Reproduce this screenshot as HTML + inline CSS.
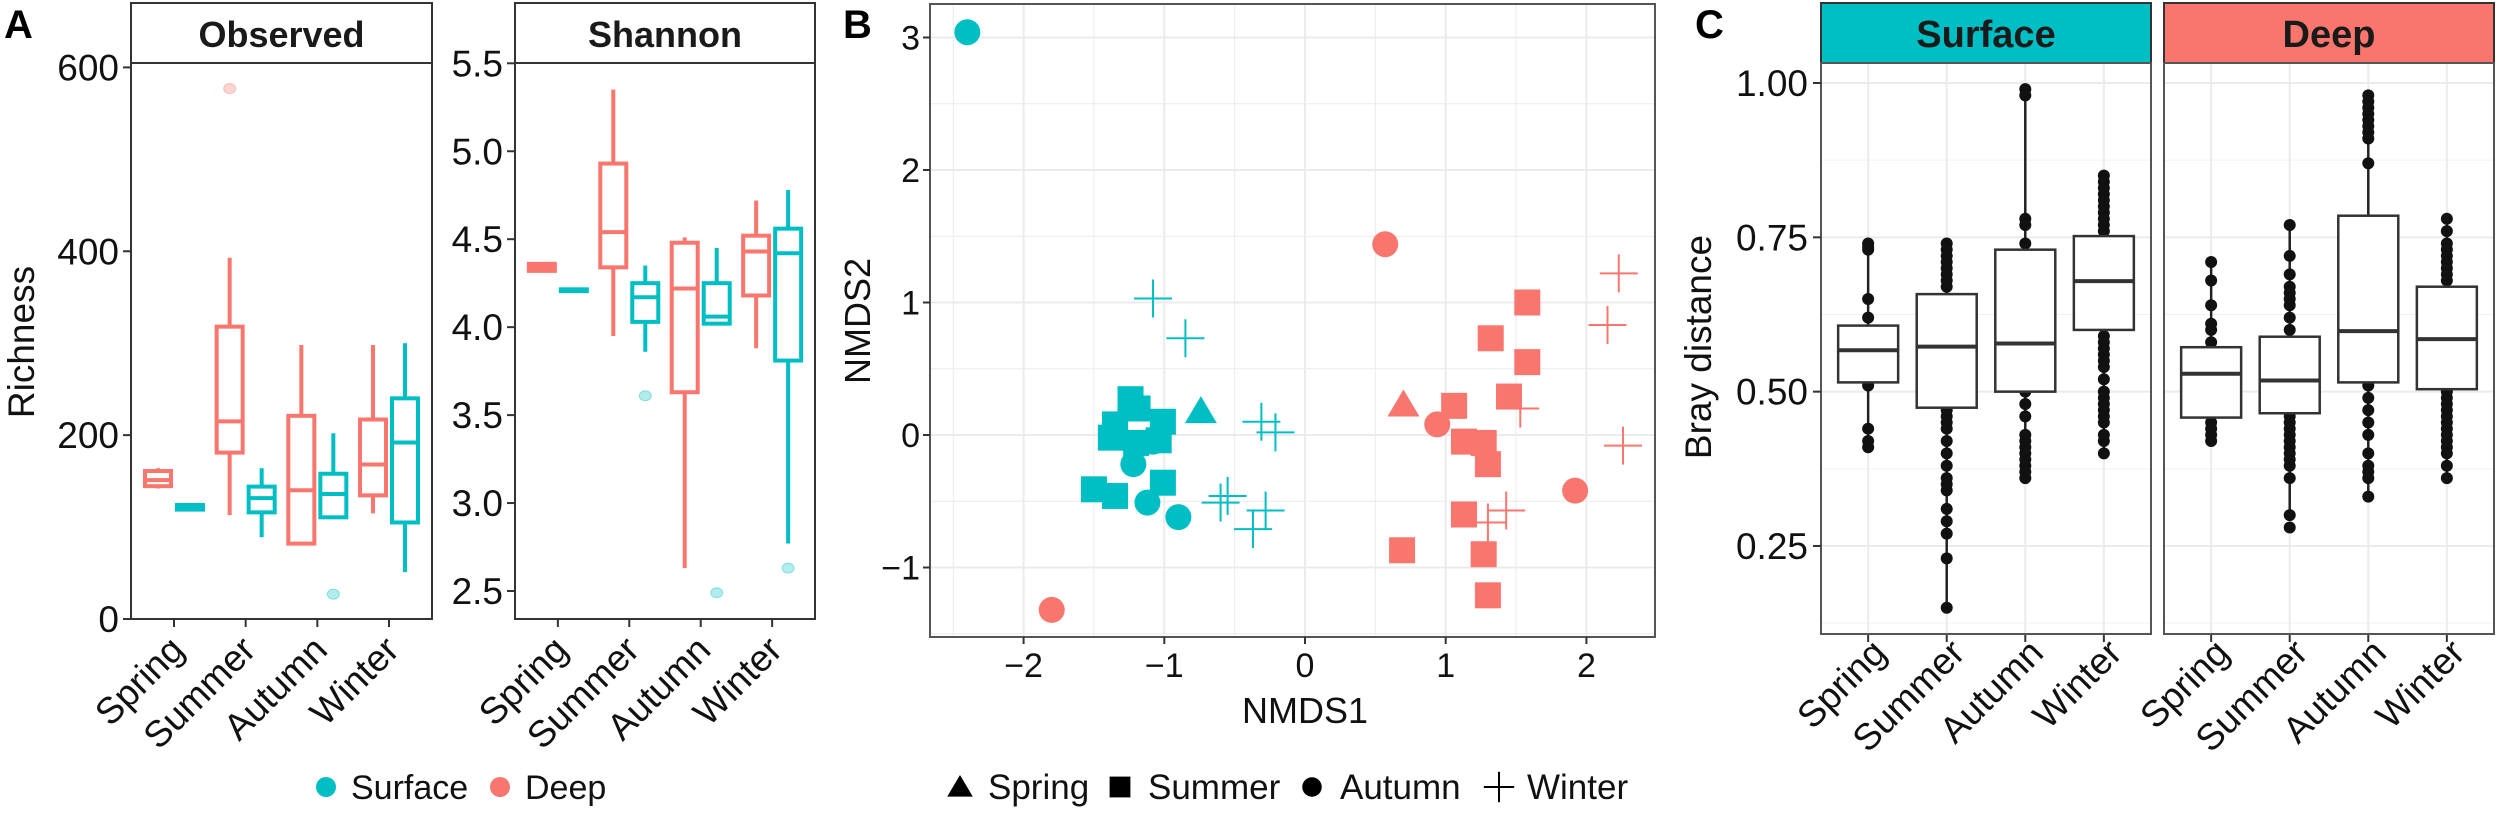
<!DOCTYPE html>
<html><head><meta charset="utf-8">
<style>
html,body{margin:0;padding:0;background:#fff;}
svg{display:block;font-family:"Liberation Sans",Arial,sans-serif;}
</style></head>
<body>
<svg id="fig" width="2500" height="813" viewBox="0 0 2500 813" xmlns="http://www.w3.org/2000/svg"></svg>
<script>
// ---------- DATA ----------
const seasons = ["Spring","Summer","Autumn","Winter"];
// Observed richness boxes: [lowWhisker, q1, median, q3, highWhisker]
const obsDeep    = [[142,144.5,151,161,164],[113,181,215,318,393],[82,82,140,221,298],[115,134.5,168,217,298]];
const obsSurface = [[118,119,121.5,124,126],[89,116,131.5,144,164],[110.6,110.6,136,158,202],[51,105,192,240,300]];
const obsDeepOut = [[],[577],[],[]];
const obsSurfOut = [[],[],[27],[]];
const shDeep     = [[4.31,4.32,4.34,4.36,4.37],[3.95,4.34,4.54,4.93,5.35],[2.63,3.63,4.22,4.48,4.51],[3.88,4.18,4.43,4.52,4.72]];
const shSurface  = [[4.20,4.205,4.21,4.215,4.22],[3.86,4.03,4.17,4.25,4.35],[4.02,4.02,4.06,4.25,4.45],[2.77,3.81,4.42,4.56,4.78]];
const shDeepOut  = [[],[],[],[]];
const shSurfOut  = [[],[3.61],[2.49],[2.63]];
const obsTicks = [0,200,400,600];
const shTicks  = [2.5,3.0,3.5,4.0,4.5,5.0,5.5];

// NMDS points
const nmdsX     = [-2.40,-1.24,-1.19,-1.35,-1.38,-1.01,-1.04,-1.50,-1.35,-1.01,-1.20,-1.22,-1.08,-1.12,-0.90,-0.74,-1.08,-0.85,-0.31,-0.21,-0.60,-0.55,-0.28,-0.37,
                   0.57,0.94,1.92,-1.80,0.70,1.58,1.32,1.58,1.45,1.06,1.13,1.27,1.30,1.13,0.69,1.27,1.30,2.23,2.15,1.53,2.26,1.43,1.30];
const nmdsY     = [3.04,0.27,0.20,0.08,-0.02,0.10,-0.04,-0.41,-0.46,-0.36,-0.06,-0.22,-0.05,-0.51,-0.62,0.18,1.03,0.73,0.10,0.02,-0.51,-0.46,-0.57,-0.71,
                   1.44,0.08,-0.42,-1.32,0.23,1.00,0.73,0.55,0.29,0.22,-0.05,-0.06,-0.22,-0.60,-0.87,-0.90,-1.21,1.22,0.83,0.20,-0.08,-0.57,-0.66];
const nmdsSeason= ["Autumn","Summer","Summer","Summer","Summer","Summer","Summer","Summer","Summer","Summer","Summer","Autumn","Autumn","Autumn","Autumn","Spring","Winter","Winter","Winter","Winter","Winter","Winter","Winter","Winter",
                   "Autumn","Autumn","Autumn","Autumn","Spring","Summer","Summer","Summer","Summer","Summer","Summer","Summer","Summer","Summer","Summer","Summer","Summer","Winter","Winter","Winter","Winter","Winter","Winter"];
const nmdsDepth = ["Surface","Surface","Surface","Surface","Surface","Surface","Surface","Surface","Surface","Surface","Surface","Surface","Surface","Surface","Surface","Surface","Surface","Surface","Surface","Surface","Surface","Surface","Surface","Surface",
                   "Deep","Deep","Deep","Deep","Deep","Deep","Deep","Deep","Deep","Deep","Deep","Deep","Deep","Deep","Deep","Deep","Deep","Deep","Deep","Deep","Deep","Deep","Deep"];
const nmdsXTicks = [-2,-1,0,1,2];
const nmdsYTicks = [-1,0,1,2,3];

// Bray distance boxes
const braySurface = [[0.412,0.515,0.567,0.607,0.74],[0.152,0.474,0.573,0.658,0.74],[0.362,0.50,0.578,0.730,0.987],[0.401,0.60,0.679,0.752,0.849]];
const brayDeep    = [[0.415,0.458,0.529,0.572,0.708],[0.30,0.465,0.518,0.589,0.767],[0.326,0.515,0.598,0.785,0.985],[0.362,0.504,0.585,0.670,0.778]];
const braySurfPts = [[0.74,0.735,0.73,0.65,0.62,0.51,0.44,0.42,0.41],
  [0.74,0.73,0.72,0.71,0.70,0.69,0.68,0.67,0.47,0.46,0.45,0.44,0.42,0.40,0.38,0.36,0.35,0.34,0.31,0.29,0.27,0.23,0.15],
  [0.99,0.98,0.78,0.77,0.74,0.50,0.48,0.46,0.43,0.42,0.41,0.40,0.39,0.38,0.37,0.36],
  [0.85,0.84,0.83,0.82,0.81,0.80,0.79,0.78,0.77,0.76,0.59,0.58,0.57,0.56,0.55,0.54,0.52,0.50,0.49,0.48,0.47,0.46,0.45,0.43,0.42,0.40]];
const brayDeepPts = [[0.71,0.68,0.64,0.61,0.60,0.58,0.45,0.44,0.43,0.42],
  [0.77,0.72,0.69,0.67,0.66,0.65,0.64,0.62,0.60,0.46,0.45,0.44,0.43,0.42,0.41,0.40,0.39,0.38,0.36,0.30,0.28],
  [0.98,0.97,0.96,0.95,0.94,0.93,0.92,0.91,0.87,0.51,0.49,0.47,0.45,0.43,0.40,0.38,0.37,0.36,0.33],
  [0.78,0.76,0.74,0.73,0.72,0.71,0.70,0.69,0.68,0.50,0.49,0.48,0.47,0.46,0.45,0.44,0.43,0.42,0.41,0.40,0.38,0.36]];
const brayTicks = [0.25,0.50,0.75,1.00];
const brayTickLabels = ["0.25","0.50","0.75","1.00"];

// ---------- HELPERS ----------
const NS="http://www.w3.org/2000/svg";
const svg=document.getElementById('fig');
const RED="#F8766D", CYAN="#00BFC4";
function el(tag,attrs,parent){const e=document.createElementNS(NS,tag);for(const k in attrs)e.setAttribute(k,attrs[k]);(parent||svg).appendChild(e);return e;}
function txt(s,attrs,parent){const e=el('text',attrs,parent);e.textContent=s;return e;}
function lin(a,b,dom,rng){return v=>rng[0]+(v-dom[0])/(dom[1]-dom[0])*(rng[1]-rng[0]);}

// ---------- PANEL A ----------
const gA=el('g',{});


const tA=txt('A',{x:4,y:38,'font-size':40,'font-weight':'bold'},gA);



function boxPanel(cfg){
  const g=el('g',{});
  
  
  const {L,R,T,B}=cfg;
  const y=lin(0,0,cfg.dom,[B-cfg.padB,T+cfg.padT]);
  const st=el('rect',{x:L,y:3,width:R-L,height:T-3,fill:'#fff',stroke:'#333','stroke-width':2},g);
  
  
  const stt=txt(cfg.title,{x:(L+R)/2,y:T-16,'font-size':36,'font-weight':'bold','text-anchor':'middle',fill:'#1a1a1a'},g);
  
  
  el('rect',{x:L,y:T,width:R-L,height:B-T,fill:'#fff',stroke:'#333','stroke-width':2},g);
  cfg.ticks.forEach(t=>{
    const yy=y(t);
    el('line',{x1:L-8,x2:L,y1:yy,y2:yy,stroke:'#333','stroke-width':2},g);
    const tl=txt(cfg.fmt(t),{x:L-12,y:yy+13,'font-size':37,'text-anchor':'end',fill:'#111'},g);
    
    
  });
  const step=(R-L)/4.2;
  seasons.forEach((s,i)=>{
    const cx=L+step*(0.6+i);
    el('line',{x1:cx,x2:cx,y1:B,y2:B+8,stroke:'#333','stroke-width':2},g);
    const xl=txt(s,{x:cx+12,y:652,'font-size':37,'text-anchor':'end',fill:'#111',transform:`rotate(-45 ${cx+12} 652)`},g);
    
    
    [[cfg.deep,cfg.deepOut,RED,-16],[cfg.surf,cfg.surfOut,CYAN,16]].forEach(([arr,outs,col,off])=>{
      const d=arr[i], bx=cx+off, w=26;
      const bg=el('g',{},g);
      
      
      el('line',{x1:bx,x2:bx,y1:y(d[0]),y2:y(d[1]),stroke:col,'stroke-width':4},bg);
      el('line',{x1:bx,x2:bx,y1:y(d[3]),y2:y(d[4]),stroke:col,'stroke-width':4},bg);
      el('rect',{x:bx-w/2,y:y(d[3]),width:w,height:Math.max(1,y(d[1])-y(d[3])),fill:'#fff',stroke:col,'stroke-width':4},bg);
      el('line',{x1:bx-w/2,x2:bx+w/2,y1:y(d[2]),y2:y(d[2]),stroke:col,'stroke-width':4},bg);
      outs[i].forEach(v=>{
        const o=el('ellipse',{cx:bx,cy:y(v),rx:6,ry:5,fill:col,'fill-opacity':0.3,stroke:col,'stroke-opacity':0.4},bg);
        
        
      });
    });
  });
  return g;
}
boxPanel({name:'observed-panel',title:'Observed',L:131,R:432,T:63,B:619,padB:0,padT:4.4,dom:[0,600],ticks:obsTicks,fmt:t=>String(t),deep:obsDeep,surf:obsSurface,deepOut:obsDeepOut,surfOut:obsSurfOut});
boxPanel({name:'shannon-panel',title:'Shannon',L:515,R:815,T:63,B:619,padB:28,padT:0.3,dom:[2.5,5.5],ticks:shTicks,fmt:t=>t.toFixed(1),deep:shDeep,surf:shSurface,deepOut:shDeepOut,surfOut:shSurfOut});
const rich=txt('Richness',{x:0,y:0,'font-size':37,'text-anchor':'middle',fill:'#111',transform:'translate(34 342) rotate(-90)'});


[[CYAN,'Surface',326],[RED,'Deep',500]].forEach(([c,l,x])=>{
  const g=el('g',{});
  
  
  el('circle',{cx:x,cy:787,r:10,fill:c},g);
  txt(l,{x:x+25,y:799,'font-size':34,fill:'#111'},g);
});

// ---------- PANEL B ----------
const gB=el('g',{});


const BL=930,BR=1655,BT=4,BB=637;
const bx=lin(0,0,[0,1],[1305,1445.7]);
const by=lin(0,0,[0,1],[435,302.5]);
const tB=txt('B',{x:843,y:38,'font-size':40,'font-weight':'bold'},gB);


el('rect',{x:BL,y:BT,width:BR-BL,height:BB-BT,fill:'#fff'},gB);
for(let v=-2.5;v<=2.5;v+=0.5){const xx=bx(v);if(xx>BL&&xx<BR)el('line',{x1:xx,x2:xx,y1:BT,y2:BB,stroke:'#ebebeb','stroke-width':Number.isInteger(v)?2:1},gB);}
for(let v=-1.5;v<=3.5;v+=0.5){const yy=by(v);if(yy>BT&&yy<BB)el('line',{x1:BL,x2:BR,y1:yy,y2:yy,stroke:'#ebebeb','stroke-width':Number.isInteger(v)?2:1},gB);}
el('rect',{x:BL,y:BT,width:BR-BL,height:BB-BT,fill:'none',stroke:'#555','stroke-width':2},gB);
nmdsXTicks.forEach(t=>{const xx=bx(t);el('line',{x1:xx,x2:xx,y1:BB,y2:BB+7,stroke:'#333','stroke-width':2},gB);
  const l=txt(t<0?'\u2212'+(-t):String(t),{x:xx,y:677,'font-size':34,'text-anchor':'middle',fill:'#111'},gB);
  
  });
nmdsYTicks.forEach(t=>{const yy=by(t);el('line',{x1:BL-7,x2:BL,y1:yy,y2:yy,stroke:'#333','stroke-width':2},gB);
  const l=txt(t<0?'\u2212'+(-t):String(t),{x:BL-10,y:yy+12,'font-size':34,'text-anchor':'end',fill:'#111'},gB);
  
  });
const n1=txt('NMDS1',{x:1305,y:723,'font-size':36,'text-anchor':'middle',fill:'#111'},gB);


const n2=txt('NMDS2',{x:0,y:0,'font-size':36,'text-anchor':'middle',fill:'#111',transform:'translate(870 321) rotate(-90)'},gB);


function marker(shape,x,y,col,parent,sc){
  sc=sc||1;
  if(shape==='Spring')return el('polygon',{points:`${x},${y-15*sc} ${x+16*sc},${y+12*sc} ${x-16*sc},${y+12*sc}`,fill:col},parent);
  if(shape==='Summer')return el('rect',{x:x-13*sc,y:y-13*sc,width:26*sc,height:26*sc,fill:col},parent);
  if(shape==='Autumn')return el('circle',{cx:x,cy:y,r:13*sc,fill:col},parent);
  const g=el('g',{stroke:col,'stroke-width':2},parent);
  el('line',{x1:x-19*sc,x2:x+19*sc,y1:y,y2:y},g);el('line',{x1:x,x2:x,y1:y-19*sc,y2:y+19*sc},g);return g;
}
nmdsX.forEach((v,i)=>{
  const m=marker(nmdsSeason[i],bx(v),by(nmdsY[i]),nmdsDepth[i]==='Deep'?RED:CYAN,gB);
  
  
});
[['Spring',960,988],['Summer',1120,1148],['Autumn',1312,1340],['Winter',1499,1527]].forEach(([s,mx,tx])=>{
  const g=el('g',{});
  
  
  marker(s,mx,787,'#000',g,s==='Autumn'?0.75:0.8);
  txt(s,{x:tx,y:799,'font-size':35,fill:'#111'},g);
});

// ---------- PANEL C ----------
const gC=el('g',{});


const tC=txt('C',{x:1695,y:38,'font-size':40,'font-weight':'bold'},gC);


const cy=lin(0,0,[0,1],[700.3,83]);
const CT=63,CB=634;
function brayFacet(name,title,col,L,R,boxes,pts){
  const g=el('g',{},gC);
  
  
  const s=el('rect',{x:L,y:3,width:R-L,height:CT-3,fill:col,stroke:'#333','stroke-width':2},g);
  
  
  const st=txt(title,{x:(L+R)/2,y:CT-16,'font-size':38,'font-weight':'bold','text-anchor':'middle',fill:'#1a1a1a'},g);
  
  
  el('rect',{x:L,y:CT,width:R-L,height:CB-CT,fill:'#fff'},g);
  [0.125,0.375,0.625,0.875].forEach(v=>el('line',{x1:L,x2:R,y1:cy(v),y2:cy(v),stroke:'#f0f0f0','stroke-width':1},g));
  brayTicks.forEach(v=>el('line',{x1:L,x2:R,y1:cy(v),y2:cy(v),stroke:'#ebebeb','stroke-width':2},g));
  const step=(R-L)/4.2;
  seasons.forEach((s,i)=>{
    const cx=L+step*(0.6+i);
    el('line',{x1:cx,x2:cx,y1:CT,y2:CB,stroke:'#ebebeb','stroke-width':2},g);
  });
  seasons.forEach((s,i)=>{
    const cx=L+step*(0.6+i), d=boxes[i], w=60;
    const bg=el('g',{},g);
    
    
    el('line',{x1:cx,x2:cx,y1:cy(d[0]),y2:cy(d[4]),stroke:'#222','stroke-width':2.5},bg);
    pts[i].forEach(v=>el('circle',{cx:cx,cy:cy(v),r:6,fill:'#111'},bg));
    el('rect',{x:cx-w/2,y:cy(d[3]),width:w,height:cy(d[1])-cy(d[3]),fill:'#fff',stroke:'#333','stroke-width':2.5},bg);
    el('line',{x1:cx-w/2,x2:cx+w/2,y1:cy(d[2]),y2:cy(d[2]),stroke:'#333','stroke-width':4},bg);
    el('line',{x1:cx,x2:cx,y1:CB,y2:CB+8,stroke:'#333','stroke-width':2},g);
    const xl=txt(s,{x:cx+20,y:655,'font-size':37,'text-anchor':'end',fill:'#111',transform:`rotate(-45 ${cx+20} 655)`},g);
    
    
  });
  el('rect',{x:L,y:CT,width:R-L,height:CB-CT,fill:'none',stroke:'#555','stroke-width':2},g);
}
brayFacet('surface-facet','Surface',CYAN,1821,2151,braySurface,braySurfPts);
brayFacet('deep-facet','Deep',RED,2164,2494,brayDeep,brayDeepPts);
brayTicks.forEach((v,i)=>{
  el('line',{x1:1813,x2:1821,y1:cy(v),y2:cy(v),stroke:'#333','stroke-width':2},gC);
  const l=txt(brayTickLabels[i],{x:1808,y:cy(v)+13,'font-size':37,'text-anchor':'end',fill:'#111'},gC);
  
  
});
const bt=txt('Bray distance',{x:0,y:0,'font-size':37,'text-anchor':'middle',fill:'#111',transform:'translate(1711 347) rotate(-90)'},gC);


</script>
</body></html>
